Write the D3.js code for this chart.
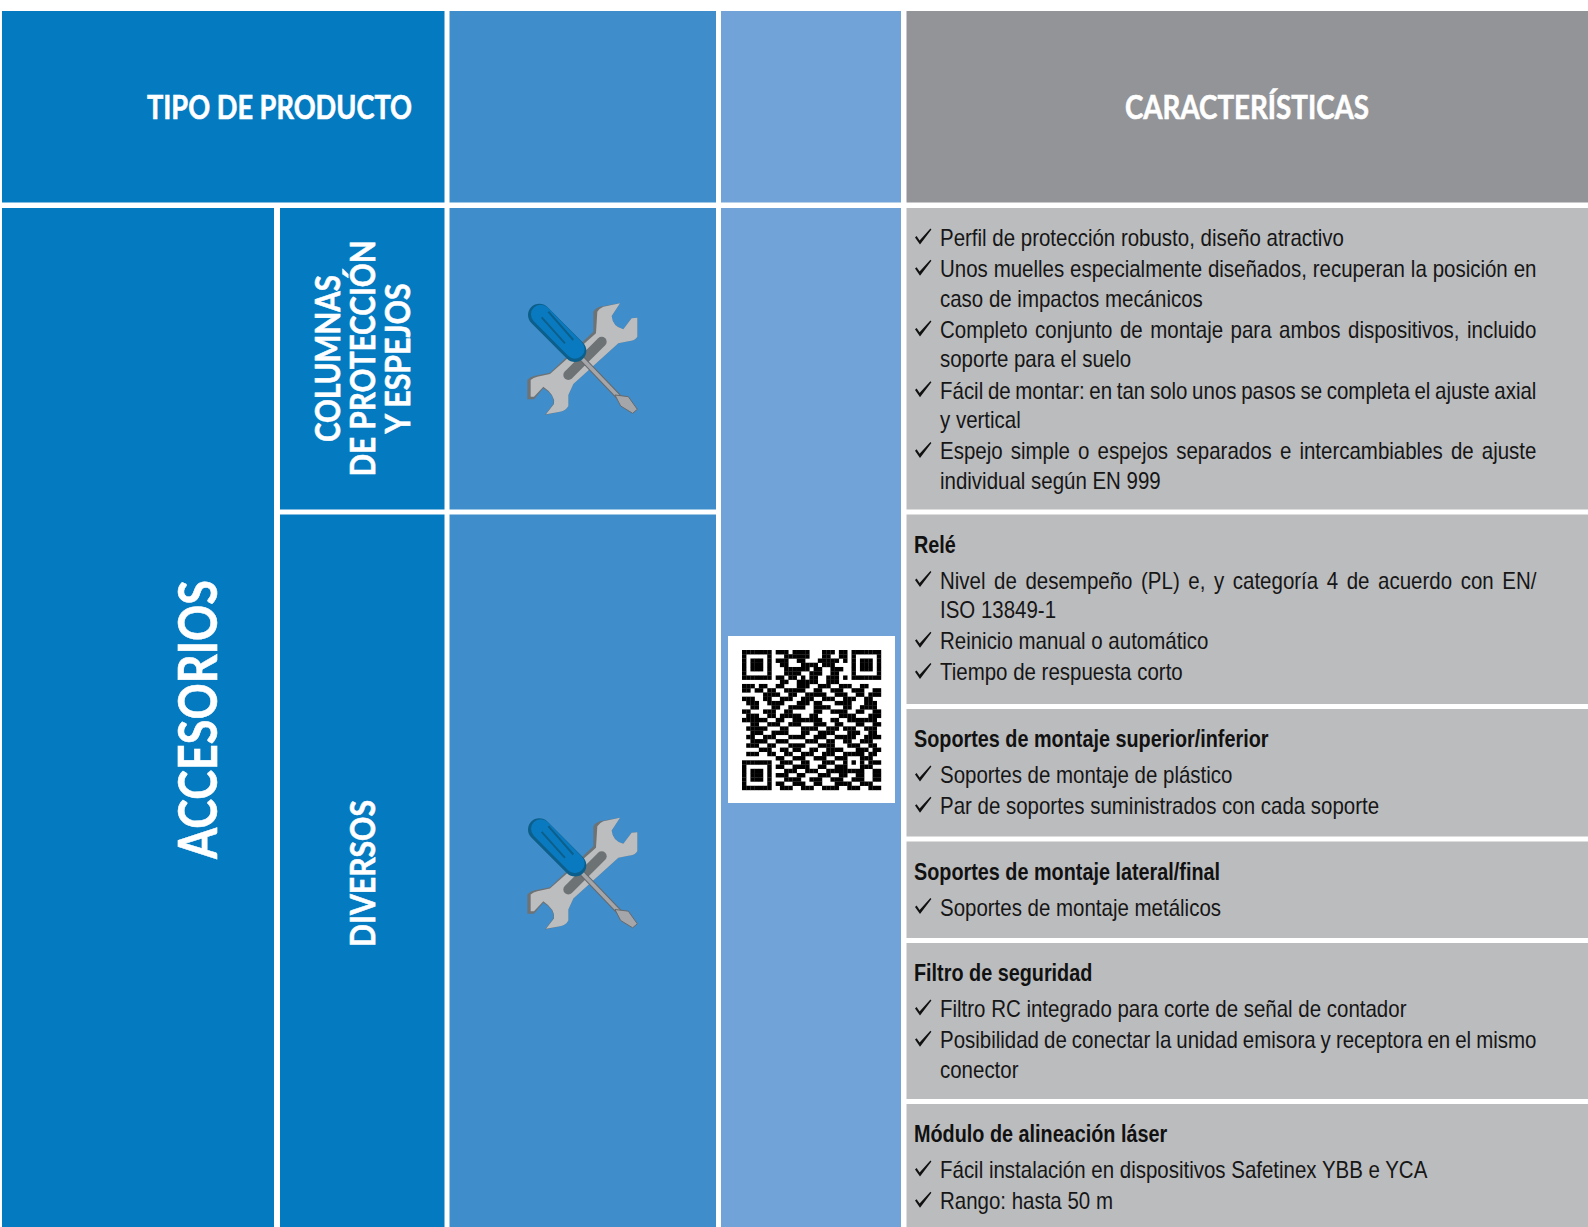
<!DOCTYPE html>
<html>
<head>
<meta charset="utf-8">
<script src="https://cdn.jsdelivr.net/npm/d3@7"></script>
<style>
  html, body { margin: 0; padding: 0; background: #fff; }
  svg { display: block; }
  .body-line { font-family: "Liberation Sans", sans-serif; font-size: 23.6px; fill: #161616; }
  .block-title { font-family: "Liberation Sans", sans-serif; font-size: 23.6px; font-weight: bold; fill: #111; }
  .head { font-family: Lato, "Open Sans", sans-serif; font-weight: bold; fill: #fff; stroke: #fff; stroke-width: 0.6px; }
</style>
</head>
<body>
<div id="chart"></div>
<script>
// texts of the table
const headers = ["TIPO DE PRODUCTO", "CARACTERÍSTICAS"];
const mainCategory = "ACCESORIOS";
const columnasLines = ["COLUMNAS", "DE PROTECCIÓN", "Y ESPEJOS"];
const diversosLabel = "DIVERSOS";

// every item is a list of wrapped lines
const columnasItems = [
  ["Perfil de protección robusto, diseño atractivo"],
  ["Unos muelles especialmente diseñados, recuperan la posición en", "caso de impactos mecánicos"],
  ["Completo conjunto de montaje para ambos dispositivos, incluido", "soporte para el suelo"],
  ["Fácil de montar: en tan solo unos pasos se completa el ajuste axial", "y vertical"],
  ["Espejo simple o espejos separados e intercambiables de ajuste", "individual según EN 999"]
];
const releItems = [
  ["Nivel de desempeño (PL) e, y categoría 4 de acuerdo con EN/", "ISO 13849-1"],
  ["Reinicio manual o automático"],
  ["Tiempo de respuesta corto"]
];
const superiorItems = [
  ["Soportes de montaje de plástico"],
  ["Par de soportes suministrados con cada soporte"]
];
const lateralItems = [
  ["Soportes de montaje metálicos"]
];
const filtroItems = [
  ["Filtro RC integrado para corte de señal de contador"],
  ["Posibilidad de conectar la unidad emisora y receptora en el mismo", "conector"]
];
const laserItems = [
  ["Fácil instalación en dispositivos Safetinex YBB e YCA"],
  ["Rango: hasta 50 m"]
];

const blockTitles = [null, "Relé", "Soportes de montaje superior/inferior", "Soportes de montaje lateral/final", "Filtro de seguridad", "Módulo de alineación láser"];
const blockItems = [columnasItems, releItems, superiorItems, lateralItems, filtroItems, laserItems];

// QR modules (spaces only to keep the rows countable)
const qrRows = [
  "1111111 0 11101111000111011 0 1111111",
  "1000001 0 00111111000110011 0 1000001",
  "1011101 0 11100110001111101 0 1011101",
  "1011101 0 01100011110111000 0 1011101",
  "1011101 0 00111111011001110 0 1011101",
  "1000001 0 00111100111001100 0 1000001",
  "1111111 0 11011010110011101 0 1111111",
  "0000000 0 01100111110011100 0 0000000",
  "11101100110 00111001110 01110011000",
  "11011011001 11110011001 11001110011",
  "00000111100 11001111100 11100110111",
  "11100110011 10011100111 00111001100",
  "01110011110 00111011000 11110001110",
  "00110001100 11110011110 00110011110",
  "11000111001 10000011001 11100110011",
  "01110011011 11100110000 01111000111",
  "11111100110 01111111001 10011111110",
  "00110011100 11100011100 11000110011",
  "01111100011 00011110011 10111001110",
  "00111001111 00011001111 00011100110",
  "01100111000 11110011100 11111001111",
  "00111100111 00001110011 00110011100",
  "01110011000 11110001111 00011100110",
  "00001110011 01100110011 11000111011",
  "011100110011001110011100 11111 0110",
  "00000000 1100111001110011 10001 1100",
  "1111111 0 0111001100011100 10101 0111",
  "1000001 0 1100111100110011 10001 1100",
  "1011101 0 0011100111001111 11111 0011",
  "1011101 0 1110011000111001 100110011",
  "1011101 0 0011110011100111 001110011",
  "1000001 0 1100111001100011 110011100",
  "1111111 0 0111001110011110 011100111"
].map(function(r) { return r.replace(/ /g, ""); });

const W = 1588, H = 1227;
const colour = { dark: "#047bc1", mid: "#3f8dcb", light: "#72a3d8", greyHead: "#939497", grey: "#bbbcbe" };

// column and row edges of the grid
const colA = [2, 274], colB = [280, 444.5], colC = [449.5, 716], colD = [721, 901], colE = [906.5, W];
const headRow = [11, 202.5], bodyTop = 208, bodyEdges = [[208, 509.5], [514.5, 704], [709, 836.5], [841.5, 938], [943, 1099], [1104, H]];

const svg = d3.select("#chart").append("svg").attr("width", W).attr("height", H);

const cells = [
  { c: [colA[0], colB[1]], r: headRow, f: colour.dark },
  { c: colC, r: headRow, f: colour.mid },
  { c: colD, r: headRow, f: colour.light },
  { c: colE, r: headRow, f: colour.greyHead },
  { c: colA, r: [bodyTop, H], f: colour.dark },
  { c: colB, r: bodyEdges[0], f: colour.dark },
  { c: colB, r: [bodyEdges[1][0], H], f: colour.dark },
  { c: colC, r: bodyEdges[0], f: colour.mid },
  { c: colC, r: [bodyEdges[1][0], H], f: colour.mid },
  { c: colD, r: [bodyTop, H], f: colour.light }
].concat(bodyEdges.map(function(r) { return { c: colE, r: r, f: colour.grey }; }));

svg.selectAll("rect.cell").data(cells).enter().append("rect")
  .attr("class", "cell")
  .attr("x", function(d) { return d.c[0]; })
  .attr("y", function(d) { return d.r[0]; })
  .attr("width", function(d) { return d.c[1] - d.c[0]; })
  .attr("height", function(d) { return d.r[1] - d.r[0]; })
  .attr("fill", function(d) { return d.f; });

// headers, textLength squeezes the font to the condensed look of the original
function headText(g, txt, size, len) {
  return g.append("text").attr("class", "head")
    .attr("font-size", size)
    .attr("textLength", len)
    .attr("lengthAdjust", "spacingAndGlyphs")
    .text(txt);
}
headText(svg, headers[0], 32, 265).attr("x", 147).attr("y", 119);
headText(svg, headers[1], 32, 244).attr("x", 1125).attr("y", 119);

function vertical(txt, x, yMid, size, len) {
  headText(svg, txt, size, len)
    .attr("text-anchor", "middle")
    .attr("transform", "translate(" + x + "," + yMid + ") rotate(-90)");
}
vertical(mainCategory, 216.5, 719.5, 54, 279);
[[340, 167], [375, 236], [410, 150]].forEach(function(p, i) {
  vertical(columnasLines[i], p[0], 358.5, 35, p[1]);
});
vertical(diversosLabel, 375, 873.5, 35, 147);

// tool icon, drawn in crop units of 3 per pixel
const defs = svg.append("defs");
const icon = defs.append("g").attr("id", "tools").attr("transform", "scale(0.3333)");
icon.append("path").attr("d", "M360,70 L335,108 Q338,140 370,148 L395,115 L412,113 L412,170 Q405,182 385,184 L355,190 L220,312 L205,345 L205,378 Q198,392 180,395 L135,405 L160,372 Q165,345 130,325 L102,358 L82,358 L82,300 Q90,290 105,287 L150,278 L280,155 L280,95 Q285,85 300,80 Z")
  .attr("fill", "#6d7275");
icon.append("path").attr("d", "M360,70 L335,108 Q338,140 370,148 L395,115 L412,113 L412,170 Q405,182 385,184 L355,190 L220,312 L205,345 L205,378 Q198,392 180,395 L138,403 L162,372 Q167,345 130,320 L102,350 L92,350 L92,300 Q100,292 112,290 L150,282 L288,160 L292,95 Q298,85 310,80 Z")
  .attr("fill", "#bcbdbf");
icon.append("line").attr("x1", 205).attr("y1", 285).attr("x2", 305).attr("y2", 185)
  .attr("stroke", "#6d7275").attr("stroke-width", 30).attr("stroke-linecap", "round");
icon.append("line").attr("x1", 245).attr("y1", 235).attr("x2", 360).attr("y2", 355)
  .attr("stroke", "#66696c").attr("stroke-width", 17);
icon.append("line").attr("x1", 245).attr("y1", 235).attr("x2", 360).attr("y2", 355)
  .attr("stroke", "#a4a6a9").attr("stroke-width", 11);
icon.append("path").attr("d", "M345,345 L385,350 L412,388 L398,400 L362,378 Z")
  .attr("fill", "#a4a6a9").attr("stroke", "#66696c").attr("stroke-width", 3);
icon.append("line").attr("x1", 118).attr("y1", 105).attr("x2", 225).attr("y2", 212)
  .attr("stroke", "#0c5f8a").attr("stroke-width", 68).attr("stroke-linecap", "round");
icon.append("line").attr("x1", 122).attr("y1", 103).attr("x2", 225).attr("y2", 207)
  .attr("stroke", "#0a7ac0").attr("stroke-width", 58).attr("stroke-linecap", "round");
icon.append("path").attr("d", "M125,112 L195,190 M145,95 L220,180")
  .attr("stroke", "#0c5f8a").attr("stroke-width", 6).attr("fill", "none");

svg.selectAll("use.tool").data([280, 794.5]).enter().append("use")
  .attr("class", "tool")
  .attr("href", "#tools")
  .attr("x", 0).attr("y", 0)
  .attr("transform", function(d) { return "translate(500," + d + ")"; });

// QR code
svg.append("rect").attr("x", 728).attr("y", 636).attr("width", 167).attr("height", 167).attr("fill", "#fff");
const qrX = d3.scaleBand().domain(d3.range(qrRows[0].length)).range([742, 881]);
const qrY = d3.scaleBand().domain(d3.range(qrRows.length)).range([650, 790]);
const qrCells = [];
qrRows.forEach(function(row, r) {
  row.split("").forEach(function(v, c) { if (v === "1") qrCells.push({ r: r, c: c }); });
});
svg.append("g").selectAll("rect").data(qrCells).enter().append("rect")
  .attr("x", function(d) { return qrX(d.c); })
  .attr("y", function(d) { return qrY(d.r); })
  .attr("width", qrX.bandwidth() + 0.2)
  .attr("height", qrY.bandwidth() + 0.2)
  .attr("fill", "#000");

// right column text, squeezed sideways because no condensed font is installed
const titleX = 914, textX = 940, rightEdge = 1536.4;
const itemGap = 31.2, wrapGap = 29.5, titleGap = 36;
const bodySqueeze = 0.868, titleSqueeze = 0.84;
const tick = "M0,-8.6 L1.6,-10 L4.6,-5.6 L15.4,-17.4 L16.4,-16.4 L5,-1.4 Z";

blockItems.forEach(function(items, b) {
  const g = svg.append("g");
  let y = bodyEdges[b][0] + 38;
  if (blockTitles[b]) {
    g.append("text").attr("class", "block-title")
      .attr("transform", "translate(" + titleX + "," + y + ") scale(" + titleSqueeze + ",1)")
      .text(blockTitles[b]);
    y += titleGap;
  }
  items.forEach(function(lines) {
    g.append("path").attr("d", tick).attr("fill", "#111").attr("transform", "translate(915," + y + ")");
    lines.forEach(function(line, i) {
      const t = g.append("text").attr("class", "body-line")
        .attr("transform", "translate(" + textX + "," + y + ") scale(" + bodySqueeze + ",1)")
        .text(line);
      // all wrapped lines but the last are justified
      if (i < lines.length - 1) {
        const gaps = line.split(" ").length - 1;
        const extra = ((rightEdge - textX) / bodySqueeze - t.node().getComputedTextLength()) / gaps;
        t.attr("word-spacing", extra);
      }
      y += i < lines.length - 1 ? wrapGap : itemGap;
    });
  });
});
</script>
</body>
</html>
